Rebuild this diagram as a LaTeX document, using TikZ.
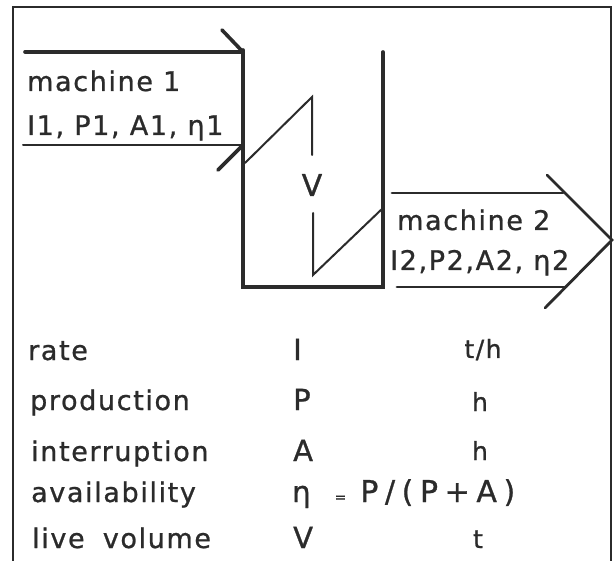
\documentclass[tikz,border=0pt]{standalone}
\usepackage{fontspec}
\setmainfont[LetterSpace=6, FakeBold=0.9]{DejaVu Sans}
\definecolor{inkc}{HTML}{2B2B2B}
\begin{document}
\begin{tikzpicture}[x=1pt,y=-1pt,
  frameline/.style={draw=inkc, line width=1.6pt},
  heavy/.style={draw=inkc, line width=3.6pt, line cap=round, line join=miter},
  medium/.style={draw=inkc, line width=2.8pt, line cap=round},
  thin/.style={draw=inkc, line width=2pt, line cap=round, line join=miter},
  lbl/.style={inner sep=0pt, anchor=base west, text=inkc, font=\fontsize{27}{27}\selectfont},
  sym/.style={inner sep=0pt, anchor=base west, text=inkc, font=\fontsize{29}{29}\selectfont},
  mlbl/.style={inner sep=0pt, anchor=base west, text=inkc, font=\fontsize{27}{27}\selectfont},
  unit/.style={inner sep=0pt, anchor=base, text=inkc, font=\fontsize{25}{25}\selectfont}]
\useasboundingbox (0,0) rectangle (616,561);
\fill[white] (0,0) rectangle (616,561);
% frame (open at the bottom)
\draw[frameline] (13,561) -- (13,7) -- (611,7) -- (611,561);
% storage tank
\coordinate (tl) at (243,50);
\coordinate (bl) at (243,287);
\coordinate (br) at (383,287);
\coordinate (tr) at (383,52);
\draw[heavy] (tl) -- (bl) -- (br) -- (tr);
% arrow of machine 1 (cut by the tank wall)
\coordinate (a1ts) at (25,52);
\coordinate (a1te) at (243,52);
\coordinate (a1hu) at (222,30);
\coordinate (a1bs) at (23,145);
\coordinate (a1be) at (243,145);
\coordinate (a1hl) at (218,170);
\draw[heavy] (a1ts) -- (a1te);
\draw[heavy] (a1hu) -- (a1te);
\draw[thin] (a1bs) -- (a1be);
\draw[heavy] (a1be) -- (a1hl);
% live volume sawtooth
\node[inner sep=0pt, text=inkc, font=\fontsize{30}{30}\selectfont] (vol) at (312,185) {V};
\coordinate (s1) at (245,163);
\coordinate (s2) at (312,97);
\coordinate (s3) at (312,155);
\coordinate (s4) at (313,213);
\coordinate (s5) at (313,275);
\coordinate (s6) at (383,208);
\draw[thin] (s1) -- (s2) -- (s3);
\draw[thin] (s4) -- (s5) -- (s6);
% arrow of machine 2
\coordinate (a2ts) at (392,193);
\coordinate (a2te) at (563,193);
\coordinate (a2bs) at (397,287);
\coordinate (a2be) at (566,287);
\coordinate (a2hu) at (547,175);
\coordinate (a2tip) at (612,240);
\coordinate (a2hl) at (545,308);
\draw[medium] (a2ts) -- (a2te);
\draw[medium] (a2bs) -- (a2be);
\draw[medium, line join=miter] (a2hu) -- (a2tip) -- (a2hl);
% machine labels
\node[mlbl] (m1) at (27,91) {machine 1};
\node[lbl] (m1p) at (27,135) {I1, P1, A1, η1};
\node[mlbl] (m2) at (397,230) {machine 2};
\node[lbl] (m2p) at (390,270) {I2,P2,A2, η2};
% legend
\node[lbl] (r1) at (28,360) {rate};
\node[lbl] (r2) at (30,410) {production};
\node[lbl] (r3) at (31,461) {interruption};
\node[lbl] (r4) at (31,502) {availability};
\node[lbl] (r5) at (32,548) {live\hspace{8pt} volume};
\node[sym] (s1n) at (293,360) {I};
\node[sym] (s2n) at (293,410) {P};
\node[sym] (s3n) at (293,461) {A};
\node[sym] (s4n) at (292,502) {η\hspace{24pt}{\fontsize{14}{14}\selectfont=}\hspace{14pt}{\fontsize{30}{30}\selectfont\addfontfeatures{LetterSpace=22}P/(P+A)}};
\node[sym] (s5n) at (293,548) {V};
\node[unit] (u1) at (483,358) {t/h};
\node[unit] (u2) at (480,411) {h};
\node[unit] (u3) at (480,460) {h};
\node[unit] (u5) at (478,548) {t};
\end{tikzpicture}
\end{document}
